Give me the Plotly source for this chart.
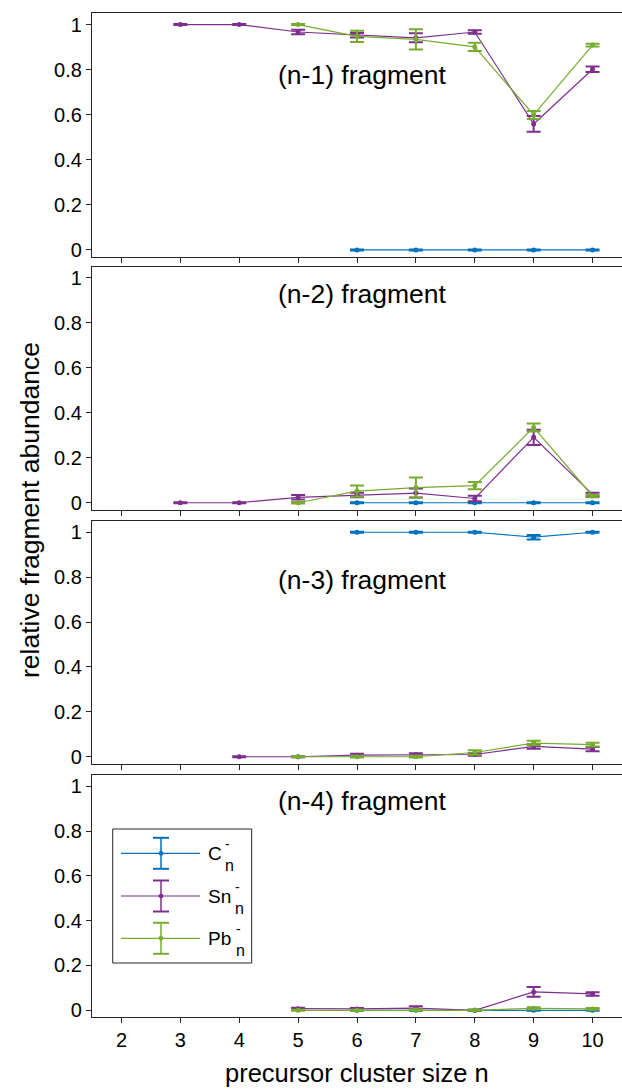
import plotly.graph_objects as go
from plotly.subplots import make_subplots

# ---------------- data ----------------
N = [3, 4, 5, 6, 7, 8, 9, 10]
X_TICKS = [2, 3, 4, 5, 6, 7, 8, 9, 10]
PANEL_LABELS = ["(n-1) fragment", "(n-2) fragment", "(n-3) fragment", "(n-4) fragment"]
SERIES_NAMES = ["C", "Sn", "Pb"]

# panel 1: (n-1)
C1 = [None, None, None, 0.0, 0.0, 0.0, 0.0, 0.0]
C1_err = [None, None, None, 0.002, 0.002, 0.002, 0.002, 0.002]
Sn1 = [1.0, 1.0, 0.967, 0.953, 0.941, 0.967, 0.559, 0.802]
Sn1_err = [0.002, 0.002, 0.01, 0.01, 0.02, 0.008, 0.035, 0.012]
Pb1 = [None, None, 1.0, 0.948, 0.934, 0.901, 0.599, 0.909]
Pb1_err = [None, None, 0.002, 0.025, 0.045, 0.018, 0.018, 0.006]

# panel 2: (n-2)
C2 = [None, None, None, 0.0, 0.0, 0.0, 0.0, 0.0]
C2_err = [None, None, None, 0.002, 0.002, 0.002, 0.002, 0.002]
Sn2 = [0.0, 0.0, 0.024, 0.034, 0.043, 0.019, 0.291, 0.037]
Sn2_err = [0.002, 0.002, 0.01, 0.01, 0.02, 0.012, 0.034, 0.008]
Pb2 = [None, None, 0.0, 0.052, 0.067, 0.076, 0.335, 0.030]
Pb2_err = [None, None, 0.003, 0.025, 0.045, 0.016, 0.018, 0.006]

# panel 3: (n-3)
C3 = [None, None, None, 1.0, 1.0, 1.0, 0.978, 1.0]
C3_err = [None, None, None, 0.002, 0.002, 0.002, 0.01, 0.002]
Sn3 = [None, 0.0, 0.0, 0.007, 0.009, 0.010, 0.046, 0.034]
Sn3_err = [None, 0.002, 0.002, 0.006, 0.007, 0.006, 0.01, 0.01]
Pb3 = [None, None, 0.0, 0.0, 0.0, 0.019, 0.061, 0.054]
Pb3_err = [None, None, 0.002, 0.003, 0.003, 0.01, 0.01, 0.008]

# panel 4: (n-4)
C4 = [None, None, None, 0.0, 0.0, 0.0, 0.0, 0.0]
C4_err = [None, None, None, 0.002, 0.002, 0.002, 0.002, 0.002]
Sn4 = [None, None, 0.007, 0.006, 0.010, 0.0, 0.082, 0.073]
Sn4_err = [None, None, 0.004, 0.004, 0.008, 0.002, 0.022, 0.008]
Pb4 = [None, None, 0.0, 0.0, 0.002, 0.0, 0.009, 0.006]
Pb4_err = [None, None, 0.002, 0.002, 0.003, 0.002, 0.004, 0.004]

PANELS = [
    [(C1, C1_err), (Sn1, Sn1_err), (Pb1, Pb1_err)],
    [(C2, C2_err), (Sn2, Sn2_err), (Pb2, Pb2_err)],
    [(C3, C3_err), (Sn3, Sn3_err), (Pb3, Pb3_err)],
    [(C4, C4_err), (Sn4, Sn4_err), (Pb4, Pb4_err)],
]

# ---------------- style ----------------
COLORS = ["#0072BD", "#7E2F8E", "#77AC30"]
FONT = "Liberation Sans, Arial, Helvetica, sans-serif"
W, H = 622, 1090
ML, MR, MT, MB = 92, 0, 13, 73
PW, PH = W - ML - MR, H - MT - MB

def py(pix):
    return (H - MB - pix) / PH

def px(pix):
    return (pix - ML) / PW

# panel pixel extents (top, bottom)
PANEL_PIX = [(13.3, 256.7), (266.7, 509.5), (521, 763.5), (775, 1017)]

fig = make_subplots(rows=4, cols=1, shared_xaxes=False)

for r, panel in enumerate(PANELS, start=1):
    for (vals, errs), color, name in zip(panel, COLORS, SERIES_NAMES):
        xs = [n for n, v in zip(N, vals) if v is not None]
        ys = [v for v in vals if v is not None]
        es = [e for v, e in zip(vals, errs) if v is not None]
        fig.add_trace(go.Scatter(
            x=xs, y=ys, mode="lines+markers", name=name,
            line=dict(color=color, width=1.2),
            marker=dict(color=color, size=5),
            error_y=dict(type="data", array=es, visible=True,
                         color=color, thickness=2, width=7),
            showlegend=False,
        ), row=r, col=1)

axis_common = dict(showline=True, linecolor="#262626", linewidth=1.3,
                   mirror=True, ticks="outside", ticklen=5, tickwidth=1,
                   tickcolor="#262626", showgrid=False, zeroline=False)

for i, (top, bot) in enumerate(PANEL_PIX, start=1):
    fig.update_yaxes(row=i, col=1, domain=[py(bot), py(top)],
                     range=[-0.03, 1.05], tickvals=[0, 0.2, 0.4, 0.6, 0.8, 1],
                     ticktext=["0", "0.2", "0.4", "0.6", "0.8", "1"],
                     tickfont=dict(size=20, color="#000", family=FONT),
                     **axis_common)
    fig.update_xaxes(row=i, col=1, range=[1.5, 10.5], tickvals=X_TICKS,
                     showticklabels=(i == 4),
                     tickfont=dict(size=20, color="#000", family=FONT),
                     **axis_common)

# panel labels
label_y = [0.746, 0.887, 0.756, 0.893]
for i, (txt, yy) in enumerate(zip(PANEL_LABELS, label_y), start=1):
    xref = "x domain" if i == 1 else f"x{i} domain"
    yref = "y domain" if i == 1 else f"y{i} domain"
    fig.add_annotation(text=txt, x=0.511, y=yy, xref=xref, yref=yref,
                       showarrow=False, font=dict(size=26.5, color="#000", family=FONT),
                       xanchor="center", yanchor="middle")

# axis titles
fig.add_annotation(text="relative fragment abundance", x=px(30), y=py(510),
                   xref="paper", yref="paper", showarrow=False, textangle=-90,
                   font=dict(size=26.5, color="#000", family=FONT),
                   xanchor="center", yanchor="middle")
fig.add_annotation(text="precursor cluster size n", x=px(357), y=py(1073),
                   xref="paper", yref="paper", showarrow=False,
                   font=dict(size=25.5, color="#000", family=FONT),
                   xanchor="center", yanchor="middle")

# manual legend (errorbar-style icons)
shapes = []
shapes.append(dict(type="rect", xref="paper", yref="paper",
                   x0=px(112.7), x1=px(251.7), y0=py(963), y1=py(829),
                   line=dict(color="#262626", width=1), fillcolor="white", layer="above"))
rows_y = [853.3, 896, 938.3]
base_texts = ["C", "Sn", "Pb"]
stack_x = [223, 233, 234]
for yy, color, bt, sx in zip(rows_y, COLORS, base_texts, stack_x):
    shapes.append(dict(type="line", xref="paper", yref="paper",
                       x0=px(121), x1=px(200), y0=py(yy), y1=py(yy),
                       line=dict(color=color, width=1.2), layer="above"))
    shapes.append(dict(type="line", xref="paper", yref="paper",
                       x0=px(161), x1=px(161), y0=py(yy - 15.5), y1=py(yy + 15.5),
                       line=dict(color=color, width=1.5), layer="above"))
    for dy in (-15.5, 15.5):
        shapes.append(dict(type="line", xref="paper", yref="paper",
                           x0=px(153), x1=px(169), y0=py(yy + dy), y1=py(yy + dy),
                           line=dict(color=color, width=2), layer="above"))
    shapes.append(dict(type="circle", xref="paper", yref="paper",
                       x0=px(159), x1=px(163), y0=py(yy + 2), y1=py(yy - 2),
                       line=dict(color=color, width=1), fillcolor=color, layer="above"))
    fig.add_annotation(text=bt, x=px(206), y=py(yy), xref="paper", yref="paper",
                       showarrow=False, xanchor="left", yanchor="middle",
                       font=dict(size=19, color="#000", family=FONT))
    fig.add_annotation(text="-", x=px(sx), y=py(yy - 9), xref="paper", yref="paper",
                       showarrow=False, xanchor="left", yanchor="middle",
                       font=dict(size=14, color="#000", family=FONT))
    fig.add_annotation(text="n", x=px(sx), y=py(yy + 12), xref="paper", yref="paper",
                       showarrow=False, xanchor="left", yanchor="middle",
                       font=dict(size=16, color="#000", family=FONT))

fig.update_layout(
    width=W, height=H,
    margin=dict(l=ML, r=MR, t=MT, b=MB),
    paper_bgcolor="white", plot_bgcolor="white",
    showlegend=False, shapes=shapes,
    font=dict(family=FONT, color="#000"),
)

fig.write_html("out.html")
